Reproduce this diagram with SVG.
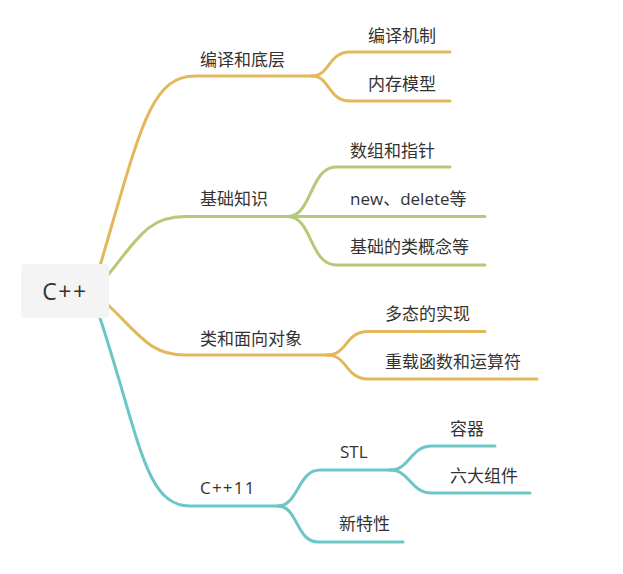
<svg xmlns="http://www.w3.org/2000/svg" width="623" height="574" viewBox="0 0 623 574">
<style>
text{font-family:"Open Sans","Noto Sans CJK SC","Microsoft YaHei",sans-serif;font-size:17px;fill:#333}
.c path{fill:none;stroke-width:3;stroke-linecap:round}
.o{stroke:#e2b85a}
.g{stroke:#b5c978}
.t{stroke:#6dc6c6}
</style>
<rect width="623" height="574" fill="#fff"/>
<g id="connectors" class="c">
<path class="o" d="M100,266 C140,130 150,76 195,76 L312,76"/>
<path class="o" d="M312,76 C330,76 328,52 350,52 L450,52"/>
<path class="o" d="M312,76 C330,76 328,101 350,101 L450,101"/>
<path class="g" d="M108,275 C140,235 150,216.5 185,216.5 L288,216.5"/>
<path class="g" d="M288,216.5 C312,216.5 310,167 336,167 L450,167"/>
<path class="g" d="M288,216.5 L485,216.5"/>
<path class="g" d="M288,216.5 C312,216.5 310,265 336,265 L485,265"/>
<path class="o" d="M108,305 C140,335 150,355 185,355 L327,355"/>
<path class="o" d="M327,355 C348,355 345,331.5 368,331.5 L485,331.5"/>
<path class="o" d="M327,355 C348,355 345,379 368,379 L537,379"/>
<path class="t" d="M100,318 C140,440 145,506 190,506 L278,506"/>
<path class="t" d="M278,506 C298,506 298,470 320,470 L390,470"/>
<path class="t" d="M278,506 C298,506 296,542 318,542 L403,542"/>
<path class="t" d="M390,470 C410,470 410,446 432,446 L495,446"/>
<path class="t" d="M390,470 C410,470 410,493 432,493 L530,493"/>
</g>
<g id="root">
<rect x="21" y="264" width="88" height="54" rx="4" fill="#f4f4f4"/>
<text x="65" y="300" text-anchor="middle" style="font-size:23px;letter-spacing:1.5px">C++</text>
</g>
<g id="n1"><text x="200" y="66">编译和底层</text></g>
<g id="n1a"><text x="368" y="42">编译机制</text></g>
<g id="n1b"><text x="368" y="90">内存模型</text></g>
<g id="n2"><text x="200" y="205">基础知识</text></g>
<g id="n2a"><text x="350" y="157">数组和指针</text></g>
<g id="n2b"><text x="350" y="205">new、delete等</text></g>
<g id="n2c"><text x="350" y="253">基础的类概念等</text></g>
<g id="n3"><text x="200" y="345">类和面向对象</text></g>
<g id="n3a"><text x="385" y="320">多态的实现</text></g>
<g id="n3b"><text x="385" y="368">重载函数和运算符</text></g>
<g id="n4"><text x="200" y="494" style="letter-spacing:1.2px">C++11</text></g>
<g id="n4a"><text x="340" y="458">STL</text></g>
<g id="n4b"><text x="339" y="530">新特性</text></g>
<g id="n4a1"><text x="450" y="435">容器</text></g>
<g id="n4a2"><text x="450" y="482">六大组件</text></g>
</svg>
